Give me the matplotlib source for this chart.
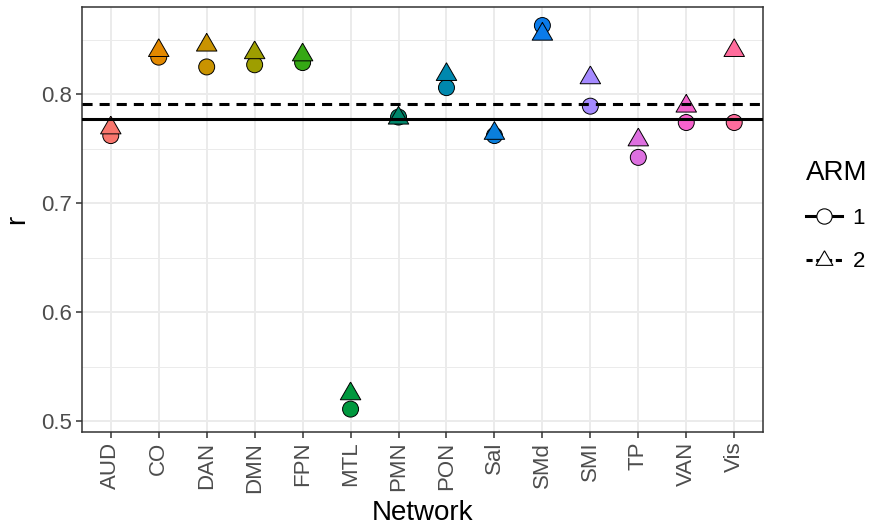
import numpy as np
import matplotlib
matplotlib.use('Agg')
import matplotlib.pyplot as plt
from matplotlib.lines import Line2D

plt.rcParams['font.family'] = ['Liberation Sans', 'DejaVu Sans']

# Data
networks = ['AUD', 'CO', 'DAN', 'DMN', 'FPN', 'MTL', 'PMN', 'PON',
            'Sal', 'SMd', 'SMI', 'TP', 'VAN', 'Vis']
r_arm1 = [0.762, 0.834, 0.825, 0.827, 0.829, 0.511, 0.779, 0.806,
          0.762, 0.863, 0.789, 0.742, 0.774, 0.774]
r_arm2 = [0.769, 0.840, 0.845, 0.838, 0.836, 0.525, 0.778, 0.818,
          0.764, 0.855, 0.815, 0.758, 0.789, 0.840]
net_colors = ['#F8766D', '#E38900', '#C99300', '#9E9E00', '#35A814', '#00983E',
              '#00866A', '#0088AE', '#0A7FDC', '#0A7BEA', '#A58AFF', '#DD70E0',
              '#F662CC', '#FF6C9C']

# triangle centred on its centroid (like R pch 24)
tri = [(0, 1.555), (1.347, -0.778), (-1.347, -0.778), (0, 1.555)]

fig = plt.figure(figsize=(8.72, 5.26), dpi=100)
ax = fig.add_axes([82 / 872, 1 - 432 / 526, (763 - 82) / 872, (432 - 7) / 526])

x = np.arange(len(networks))

# grid
for yy in [0.55, 0.65, 0.75, 0.85]:
    ax.axhline(yy, color='#EBEBEB', lw=0.7, zorder=0)
for yy in [0.5, 0.6, 0.7, 0.8]:
    ax.axhline(yy, color='#EBEBEB', lw=1.4, zorder=0)
for xx in x:
    ax.axvline(xx, color='#EBEBEB', lw=1.4, zorder=0)

ax.scatter(x, r_arm1, s=11.5 ** 2, marker='o', c=net_colors,
           edgecolors='black', linewidths=0.7, zorder=3)
ax.scatter(x, r_arm2, s=17 ** 2, marker=tri, c=net_colors,
           edgecolors='black', linewidths=0.7, zorder=4)

ax.axhline(np.mean(r_arm1), color='black', lw=2.2, ls='-', zorder=5)
ax.axhline(np.mean(r_arm2), color='black', lw=2.2, dashes=(3.3, 2.3), zorder=5)

ax.set_xlim(-0.6, len(networks) - 0.4)
ax.set_ylim(0.490, 0.880)
ax.set_xticks(x)
ax.set_xticklabels(networks, rotation=90)
ax.set_yticks([0.5, 0.6, 0.7, 0.8])
ax.set_yticklabels(['0.5', '0.6', '0.7', '0.8'])
ax.tick_params(axis='both', labelsize=16, labelcolor='#4D4D4D', color='#333333',
               length=4, width=1.1, pad=3)

for sp in ax.spines.values():
    sp.set_color('#333333')
    sp.set_linewidth(1.1)

ax.set_xlabel('Network', fontsize=20, labelpad=5)
ax.set_ylabel('r', fontsize=20, labelpad=8)

handles = [
    Line2D([0], [0], color='black', lw=2.2, ls='-', marker='o', ms=11,
           mfc='white', mec='black', mew=0.8),
    Line2D([0], [0], color='black', lw=2.2, dashes=(2.0, 1.2), marker=tri, ms=14,
           mfc='white', mec='black', mew=0.8),
]
leg = fig.legend(handles, ['1', '2'], title='ARM', loc='upper left',
                 bbox_to_anchor=(786 / 872, 1 - 140 / 526), frameon=False,
                 fontsize=16, title_fontsize=20, handlelength=1.6,
                 handletextpad=0.5, labelspacing=1.0, alignment='left')

fig.savefig('out.png', dpi=100)
